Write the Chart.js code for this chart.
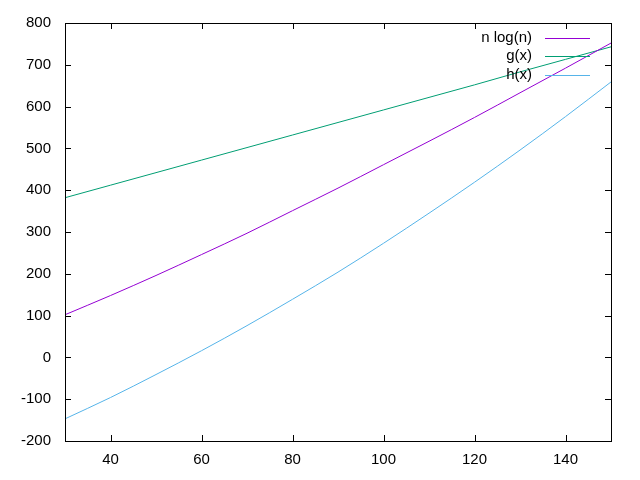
<!DOCTYPE html>
<html>
<head>
<meta charset="utf-8">
<script src="https://cdn.jsdelivr.net/npm/chart.js@4/dist/chart.umd.min.js"></script>
<style>
  html, body { margin: 0; padding: 0; background: #fff; }
  #wrap { width: 640px; height: 480px; }
</style>
</head>
<body>
<div id="wrap"><canvas id="plot" width="640" height="480"></canvas></div>
<script>
// values
const xs = [30, 40, 50, 60, 70, 80, 90, 100, 110, 120, 130, 140, 150];
const nlogn = [102, 148, 196, 246, 297, 351, 405, 461, 517, 574, 633, 692, 752];
const gx = [382, 412, 442, 472, 502, 532, 562, 592, 622, 652, 683, 713, 743];
const hx = [-147, -96, -41, 16, 76, 139, 204, 273, 345, 419, 496, 576, 659];
const xTicks = [40, 60, 80, 100, 120, 140];
const yTicks = [-200, -100, 0, 100, 200, 300, 400, 500, 600, 700, 800];

const labels = ["n log(n)", "g(x)", "h(x)"];
const colors = ["#9400d3", "#009e73", "#56b4e9"];

function pts(ys) {
    return xs.map((x, i) => ({ x: x, y: ys[i] }));
}

const FONT = '"Liberation Sans", Arial, sans-serif';

// gnuplot style frame with inward ticks on all four sides
const framePlugin = {
    id: 'frame',
    afterDraw(chart) {
        const c = chart.ctx;
        const a = chart.chartArea;
        const xs_ = chart.scales.x, ys_ = chart.scales.y;
        c.save();
        c.strokeStyle = '#000';
        c.lineWidth = 1;
        c.strokeRect(Math.round(a.left) + 0.5, Math.round(a.top) + 0.5,
            Math.round(a.right - a.left), Math.round(a.bottom - a.top));
        c.beginPath();
        xTicks.forEach(v => {
            const px = Math.round(xs_.getPixelForValue(v)) + 0.5;
            c.moveTo(px, a.bottom); c.lineTo(px, a.bottom - 6);
            c.moveTo(px, a.top); c.lineTo(px, a.top + 6);
        });
        yTicks.forEach(v => {
            const py = Math.round(ys_.getPixelForValue(v)) + 0.5;
            c.moveTo(a.left, py); c.lineTo(a.left + 6, py);
            c.moveTo(a.right, py); c.lineTo(a.right - 6, py);
        });
        c.stroke();

        // key, top right inside the plot
        c.font = '15px ' + FONT;
        c.textAlign = 'right';
        c.textBaseline = 'middle';
        chart.data.datasets.forEach((ds, i) => {
            const y = a.top + 14.5 + i * 18.7;
            c.fillStyle = '#000';
            c.fillText(ds.label, a.right - 79, y);
            c.strokeStyle = ds.borderColor;
            c.beginPath();
            c.moveTo(a.right - 66, Math.round(y) + 0.5);
            c.lineTo(a.right - 21, Math.round(y) + 0.5);
            c.stroke();
        });
        c.restore();
    }
};

const chart = new Chart(document.getElementById('plot').getContext('2d'), {
    type: 'line',
    data: {
        datasets: [
            { label: labels[0], data: pts(nlogn), borderColor: colors[0] },
            { label: labels[1], data: pts(gx), borderColor: colors[1] },
            { label: labels[2], data: pts(hx), borderColor: colors[2] }
        ]
    },
    options: {
        responsive: false,
        animation: false,
        layout: { padding: { top: 19, right: 29, left: 0, bottom: 0 } },
        datasets: {
            line: {
                borderWidth: 1,
                pointRadius: 0,
                fill: false,
                cubicInterpolationMode: 'monotone'
            }
        },
        scales: {
            x: {
                type: 'linear',
                min: 30,
                max: 150,
                grid: { display: false, drawTicks: false },
                border: { display: false },
                afterBuildTicks: s => { s.ticks = xTicks.map(v => ({ value: v })); },
                afterFit: s => { s.height = 39; },
                ticks: { color: '#000', padding: 10, font: { family: FONT, size: 15 } }
            },
            y: {
                type: 'linear',
                min: -200,
                max: 800,
                grid: { display: false, drawTicks: false },
                border: { display: false },
                afterBuildTicks: s => { s.ticks = yTicks.map(v => ({ value: v })); },
                afterFit: s => { s.width = 65; },
                ticks: { color: '#000', padding: 14, font: { family: FONT, size: 15 } }
            }
        },
        plugins: {
            legend: { display: false },
            tooltip: { enabled: false }
        }
    },
    plugins: [framePlugin]
});
</script>
</body>
</html>
